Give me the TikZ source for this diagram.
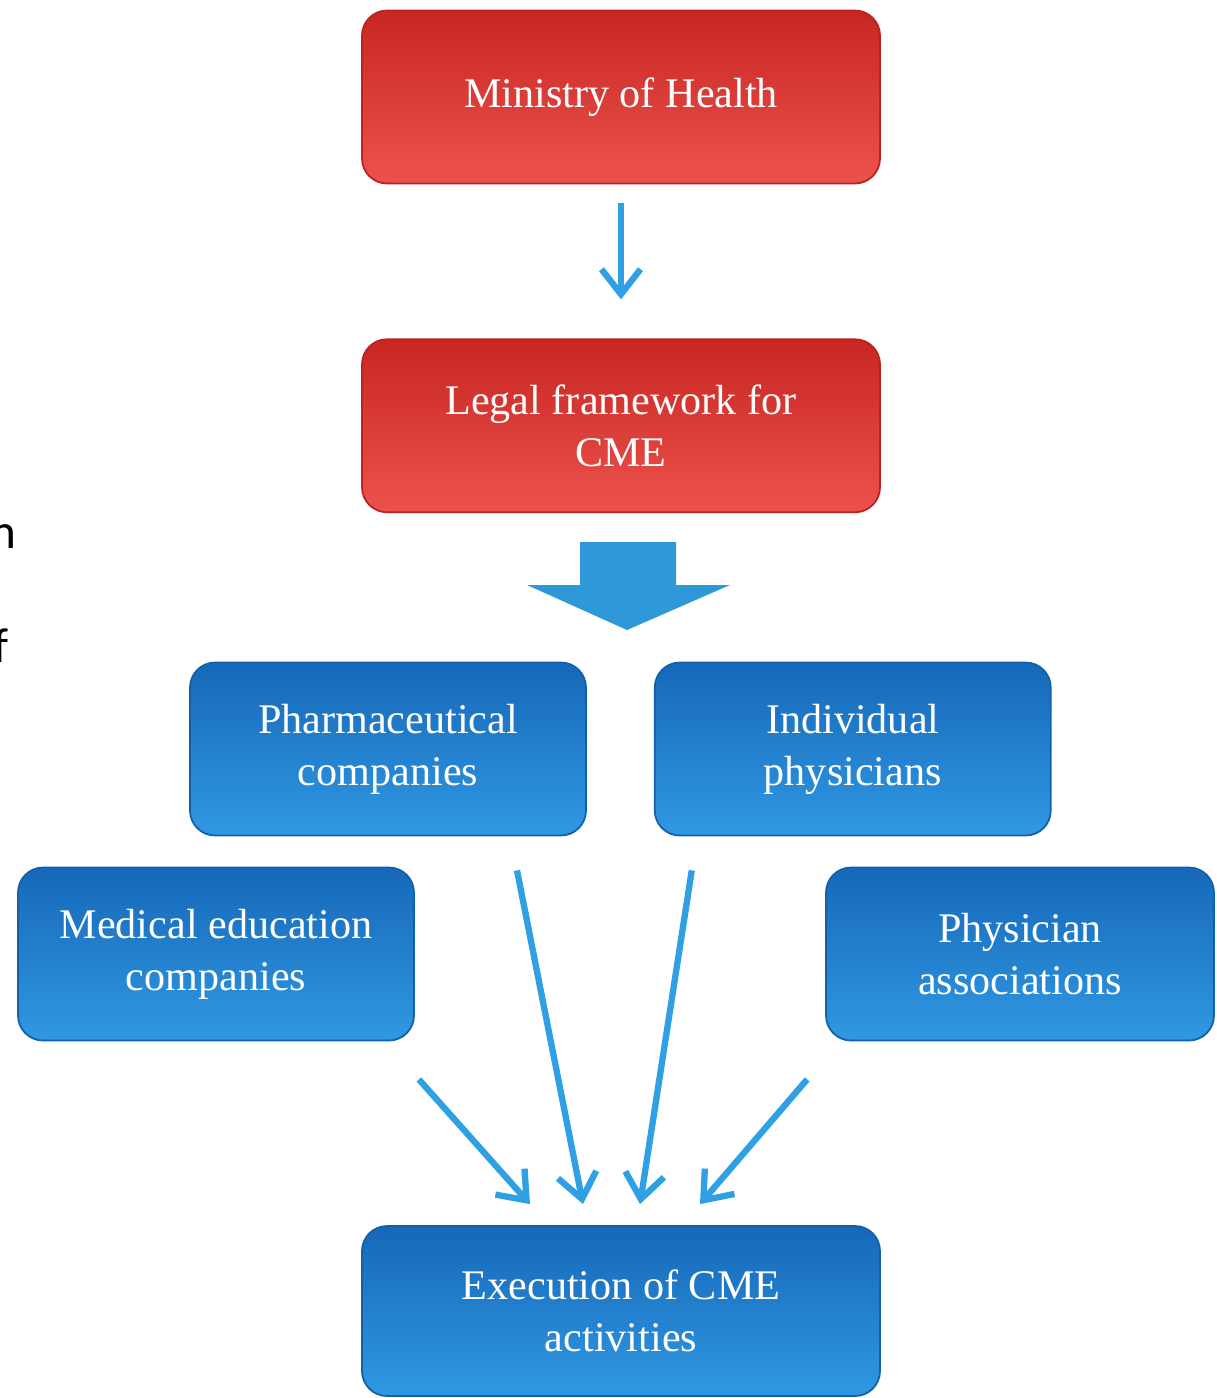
\documentclass[tikz,border=0pt]{standalone}
\usepackage{fontspec}
\setmainfont{Liberation Serif}
\newfontfamily\cutfont{Carlito}
\usepackage{tikz}
\usetikzlibrary{arrows.meta, positioning, calc}
\definecolor{minred}{RGB}{222,52,48}
\definecolor{minredtop}{RGB}{200,38,34}
\definecolor{minredbot}{RGB}{236,82,76}
\definecolor{minredline}{RGB}{185,35,32}
\definecolor{cmeblue}{RGB}{30,120,200}
\definecolor{cmebluetop}{RGB}{22,104,185}
\definecolor{cmebluebot}{RGB}{48,152,226}
\definecolor{cmeblueline}{RGB}{18,96,170}
\definecolor{arrowblue}{RGB}{48,160,228}

\begin{document}
\begin{tikzpicture}[
  every node/.style={font=\fontsize{24}{29.6}\selectfont, text=white, align=center},
  redbox/.style={draw=minredline, line width=1pt, rounded corners=0.5cm, top color=minredtop, bottom color=minredbot, minimum width=10.36cm, minimum height=3.46cm},
  bluebox/.style={draw=cmeblueline, line width=1pt, rounded corners=0.5cm, top color=cmebluetop, bottom color=cmebluebot, minimum width=7.92cm, minimum height=3.46cm},
  thinarrow/.style={draw=arrowblue, line width=3.6pt, -{Straight Barb[length=0.5cm, width=0.78cm]}},
  cuttext/.style={font=\cutfont\fontsize{28}{30}\selectfont, text=black, inner sep=0pt}
]
  \useasboundingbox (0,0) rectangle (24.32,-27.96);

  % top of the chain
  \node[redbox] (min) at (12.42,-1.94) {Ministry of Health};
  \node[redbox, below=3.08cm of min] (legal) {Legal framework for\\CME};
  \draw[thinarrow, shorten <=0.38cm, shorten >=0.78cm] (min) -- (legal);

  % block arrow
  \fill[arrowblue!95!black] (11.6,-10.84) -- (13.52,-10.84) -- (13.52,-11.7) -- (14.6,-11.7)
    -- (12.54,-12.6) -- (10.54,-11.7) -- (11.6,-11.7) -- cycle;

  % actors
  \node[bluebox] (pharm) at (7.76,-14.98) {Pharmaceutical\\companies};
  \node[bluebox, right=1.34cm of pharm] (indiv) {Individual\\physicians};
  \node[bluebox] (medu) at (4.32,-19.08) {Medical education\\companies};
  \node[bluebox, minimum width=7.76cm] (passoc) at (20.4,-19.08) {Physician\\associations};

  \node[bluebox, minimum width=10.36cm, minimum height=3.4cm] (exec) at (12.42,-26.22) {Execution of CME\\activities};

  % arrow ends
  \coordinate (m1) at ($(medu.south east)+(0.08,-0.76)$);
  \coordinate (m2) at ($(exec.north)+(-1.82,0.42)$);
  \coordinate (p1) at ($(pharm.south)+(2.58,-0.68)$);
  \coordinate (p2) at ($(exec.north)+(-0.76,0.42)$);
  \coordinate (i1) at ($(indiv.south)+(-3.22,-0.68)$);
  \coordinate (i2) at ($(exec.north)+(0.38,0.42)$);
  \coordinate (a1) at ($(passoc.south west)+(-0.36,-0.76)$);
  \coordinate (a2) at ($(exec.north)+(1.58,0.42)$);

  \draw[thinarrow] (m1) -- (m2);
  \draw[thinarrow] (p1) -- (p2);
  \draw[thinarrow] (i1) -- (i2);
  \draw[thinarrow] (a1) -- (a2);

  % cut-off letters at the left edge
  \node[cuttext, anchor=base east] (cutn) at (0.34,-10.96) {n};
  \node[cuttext, anchor=base east] (cutf) at (0.17,-13.24) {f};
\end{tikzpicture}
\end{document}
